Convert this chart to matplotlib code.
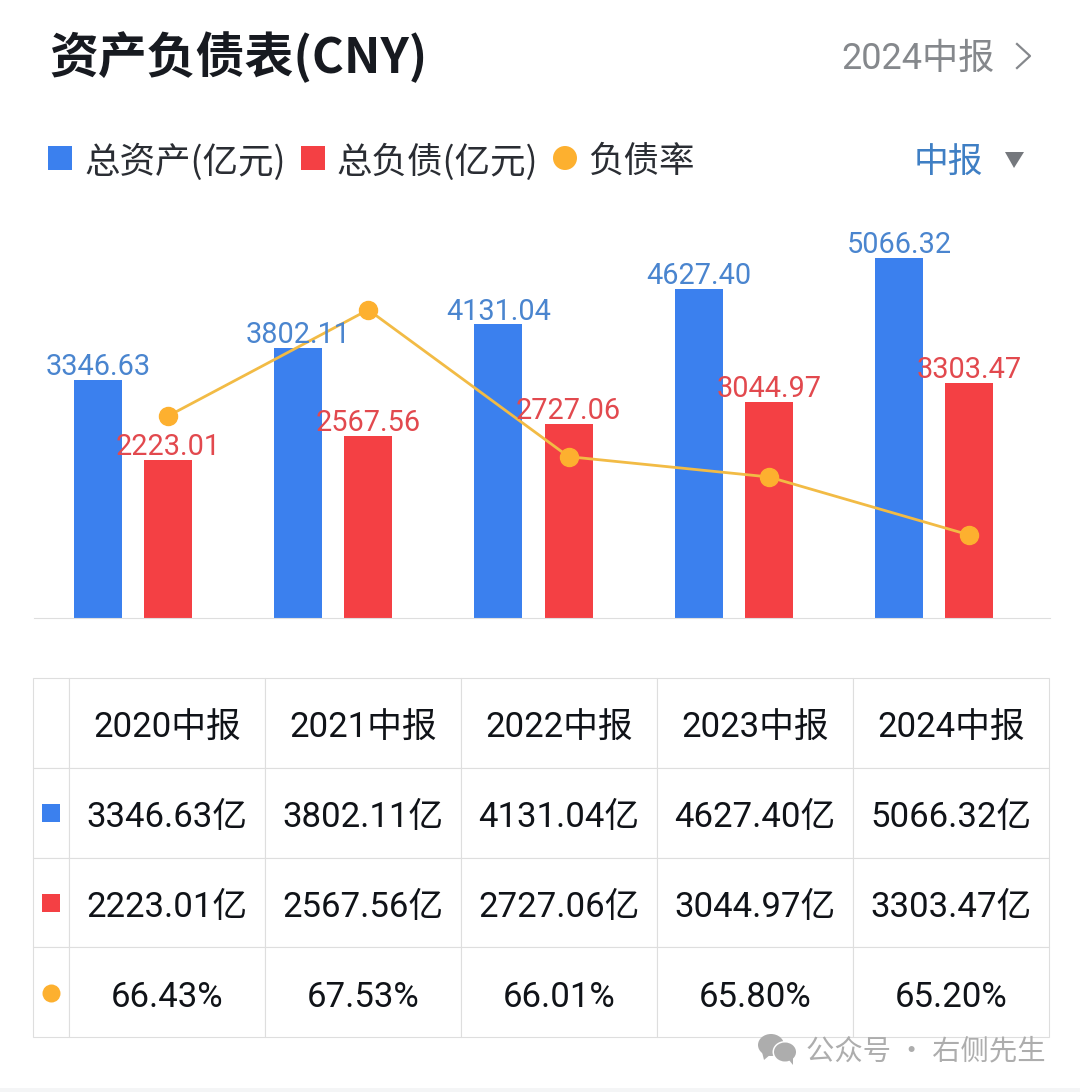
"""
Balance sheet card: bars for total assets / liabilities, line for debt ratio, table below.
"""
import matplotlib
matplotlib.use("Agg")
import matplotlib.pyplot as plt
from matplotlib.patches import Ellipse, Polygon, Rectangle, Circle
from matplotlib.transforms import Affine2D

plt.rcParams["font.family"] = ["Roboto", "Noto Sans CJK SC", "DejaVu Sans"]

periods = ["2020中报", "2021中报", "2022中报", "2023中报", "2024中报"]
total_assets = [3346.63, 3802.11, 4131.04, 4627.40, 5066.32]
total_liabilities = [2223.01, 2567.56, 2727.06, 3044.97, 3303.47]
debt_ratio = [66.43, 67.53, 66.01, 65.80, 65.20]

BLUE = "#3b80ee"
RED = "#f44044"
ORANGE = "#fdb02f"
LINE_ORANGE = "#f2bb45"
GRID = "#dedede"
INK = "#101318"
CJK = ["Noto Sans CJK SC", "DejaVu Sans"]

W, H = 1080, 1092
fig = plt.figure(figsize=(W / 100, H / 100), dpi=100, facecolor="white")


def px_axes(left, top, right, bottom):
    return fig.add_axes([left / W, 1 - bottom / H, (right - left) / W, (bottom - top) / H])


# -------------------------------------------------------------------------
# header, legend (full figure, pixel coordinates)
# -------------------------------------------------------------------------
bg = px_axes(0, 0, W, H)
bg.set_xlim(0, W)
bg.set_ylim(H, 0)
bg.axis("off")

bg.text(49, 57, "资产负债表(CNY)", fontsize=35.2, fontweight="bold", color="#171a20",
        family=CJK, va="center", ha="left")
bg.text(995, 59, "2024中报", fontsize=26, color="#85888c", va="center", ha="right")
bg.plot([1017, 1030, 1017], [44, 56, 68], color="#85888c", lw=1.6)

bg.add_patch(Rectangle((48, 146), 24, 24, color=BLUE, lw=0))
bg.text(84, 162, "总资产(亿元)", fontsize=25.6, color="#2a2d33", family=CJK, va="center")
bg.add_patch(Rectangle((301, 146), 24, 24, color=RED, lw=0))
bg.text(336, 162, "总负债(亿元)", fontsize=25.6, color="#2a2d33", family=CJK, va="center")
bg.add_patch(Circle((565, 158), 12, color=ORANGE, lw=0))
bg.text(588, 162, "负债率", fontsize=25.6, color="#2a2d33", family=CJK, va="center")
bg.text(983, 163, "中报", fontsize=25, color="#3f7fc4", family=CJK, va="center", ha="right")
bg.add_patch(Polygon([[1005, 152], [1024, 152], [1014, 168]], color="#75787d", lw=0))

# bottom strip of the screenshot
bg.add_patch(Rectangle((0, 1088), W, 4, color="#f4f5f6", lw=0))

# -------------------------------------------------------------------------
# bars + line
# -------------------------------------------------------------------------
ax = px_axes(34, 218, 1050, 618)
x = list(range(len(periods)))
offset = 0.175
bar_w = 0.24

ax.bar([i - offset for i in x], total_assets, bar_w, color=BLUE)
ax.bar([i + offset for i in x], total_liabilities, bar_w, color=RED)
ax.set_xlim(-0.494, 4.579)
ax.set_ylim(0, 5629)
for side in ["top", "left", "right"]:
    ax.spines[side].set_visible(False)
ax.spines["bottom"].set_color(GRID)
ax.spines["bottom"].set_linewidth(0.8)
ax.set_xticks([])
ax.set_yticks([])
ax.patch.set_alpha(0)

ax2 = ax.twinx()
ax2.plot([i + offset for i in x], debt_ratio, color=LINE_ORANGE, lw=2.0, marker="o",
         markersize=13, markerfacecolor=ORANGE, markeredgecolor=ORANGE, zorder=3)
ax2.set_ylim(64.34, 68.48)
ax2.axis("off")

# labels go on top of the line
for i in x:
    ax2.annotate(f"{total_assets[i]:.2f}",
                 xy=(i - offset, total_assets[i] / 5629), xycoords=("data", "axes fraction"),
                 xytext=(0, -0.8), textcoords="offset points", ha="center", va="bottom",
                 fontsize=20.8, color="#4a85cf", zorder=5)
    ax2.annotate(f"{total_liabilities[i]:.2f}",
                 xy=(i + offset, total_liabilities[i] / 5629), xycoords=("data", "axes fraction"),
                 xytext=(0, -0.8), textcoords="offset points", ha="center", va="bottom",
                 fontsize=20.8, color="#e2494e", zorder=5)

# -------------------------------------------------------------------------
# table
# -------------------------------------------------------------------------
tax = px_axes(33, 678, 1049, 1037)
tax.axis("off")

rows = [
    [""] + periods,
    [""] + [f"{v:.2f}亿" for v in total_assets],
    [""] + [f"{v:.2f}亿" for v in total_liabilities],
    [""] + [f"{v:.2f}%" for v in debt_ratio],
]
first_w = 36 / 1016
col_w = [first_w] + [(1 - first_w) / len(periods)] * len(periods)
tbl = tax.table(cellText=rows, colWidths=col_w, cellLoc="center", bbox=[0, 0, 1, 1])
tbl.auto_set_font_size(False)
for cell in tbl.get_celld().values():
    cell.set_edgecolor(GRID)
    cell.set_linewidth(0.8)
    cell.get_text().set_fontsize(25)
    cell.get_text().set_color(INK)
    # cell text is placed in window pixels, nudge it down a little
    cell.get_text().set_transform(Affine2D().translate(0, -5))

# series keys in the first column
tax.set_xlim(0, 1)
tax.set_ylim(0, 1)
tax.scatter([0.0177], [0.624], s=168, marker="s", color=BLUE, lw=0, zorder=5, clip_on=False)
tax.scatter([0.0177], [0.373], s=168, marker="s", color=RED, lw=0, zorder=5, clip_on=False)
tax.scatter([0.0177], [0.1226], s=168, marker="o", color=ORANGE, lw=0, zorder=5, clip_on=False)

# -------------------------------------------------------------------------
# watermark on top of everything
# -------------------------------------------------------------------------
wm = px_axes(0, 0, W, H)
wm.set_xlim(0, W)
wm.set_ylim(H, 0)
wm.axis("off")
wm.patch.set_alpha(0)
wm.add_patch(Ellipse((771, 1045), 26, 22, color="#adadad", lw=0))
wm.add_patch(Polygon([[762, 1052], [764, 1060], [771, 1054]], color="#adadad", lw=0))
wm.add_patch(Ellipse((785, 1052), 25, 22, color="white", lw=0))
wm.add_patch(Ellipse((785, 1052), 22, 19, color="#adadad", lw=0))
wm.add_patch(Polygon([[789, 1060], [793, 1065], [793, 1057]], color="#adadad", lw=0))
wm.text(806, 1051, "公众号 · 右侧先生", fontsize=20.4, color="#adadad", family=CJK,
        va="center", ha="left")

fig.savefig("out.png", dpi=100, facecolor="white")
plt.close(fig)
